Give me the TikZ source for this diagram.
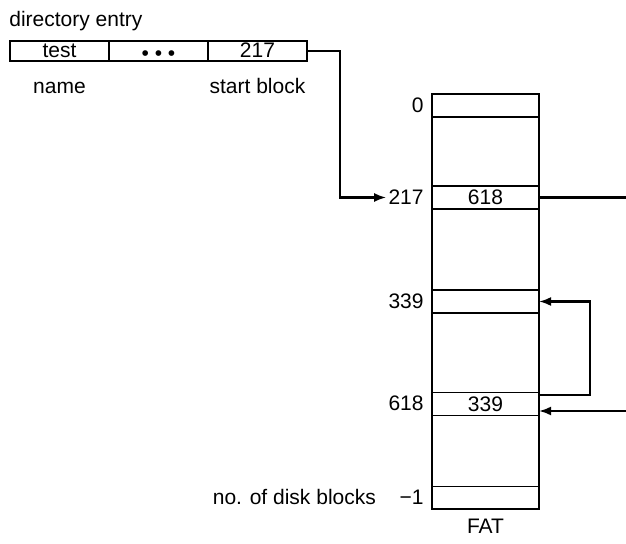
\documentclass[tikz,border=0pt]{standalone}
\usepackage{fontspec}
\setmainfont{Liberation Sans}
\usetikzlibrary{positioning,arrows.meta}

\begin{document}
\begin{tikzpicture}[
    x=0.5pt, y=-0.5pt,
    font=\fontsize{10.5}{12}\selectfont,
    node distance = 7pt and 3pt,
    cell/.style = {rectangle, draw, line width=0.85pt, minimum width=49.5pt,
      minimum height=10pt, inner sep=0pt, outer sep=0pt,
      text height=1.5ex, text depth=.25ex},
    fatrow/.style = {rectangle, draw, line width=0.85pt, minimum width=53.5pt,
      minimum height=11.5pt, inner sep=0pt, outer sep=0pt},
    lbl/.style = {inner sep=1pt, text height=1.5ex, text depth=.25ex},
    arrow/.style = {line width=1.1pt, -{Latex[length=6pt,width=4.5pt]}},
    link/.style = {line width=1.1pt}
  ]
  \useasboundingbox (0,0) rectangle (626,544);
  \node (dir) [lbl, anchor=base west] at (7,27) {directory entry};
  \node (name) [cell] at (59.5,51) {test};
  \node (dots) [cell, right=0pt of name]
    {\raisebox{-1.6pt}{\textbullet\ \textbullet\ \textbullet}};
  \node (start) [cell, right=0pt of dots] {217};
  \node (namelbl) [lbl, below=7pt of name] {name};
  \node (startlbl) [lbl, below=7pt of start] {start block};

  \node (fat) [fatrow, minimum height=207.5pt] at (485.5,301.5) {};
  \node (r0) [fatrow] at (485.5,105.5) {};
  \node (r217) [fatrow] at (485.5,197.5) {618};
  \node (r339) [fatrow] at (485.5,301.5) {};
  \node (r618) [fatrow] at (485.5,404) {339};
  \node (rm1) [fatrow] at (485.5,498) {};
  \node (l0) [lbl, left=3pt of r0] {0};
  \node (l217) [lbl, left=3pt of r217] {217};
  \node (l339) [lbl, left=3pt of r339] {339};
  \node (l618) [lbl, left=3pt of r618] {618};
  \node (lm1) [lbl, left=3pt of rm1] {−1};
  \node (ndb) [lbl, left=9.5pt of lm1] {no. of disk blocks};
  \node (fatlbl) [lbl, below=3.3pt of fat] {FAT};

  \coordinate (exit217) at (626,197.5);
  \coordinate (enter618) at (626,411);
  \draw [arrow] (start.east) -- ++(33,0) |- (l217.west);
  \draw [link] (r217.east) -- (exit217);
  \draw [arrow] ([yshift=4.5pt]r618.east) -- ++(51,0) |- (r339.east);
  \draw [arrow] (enter618) -- ([yshift=-3.5pt]r618.east);
\end{tikzpicture}
\end{document}
